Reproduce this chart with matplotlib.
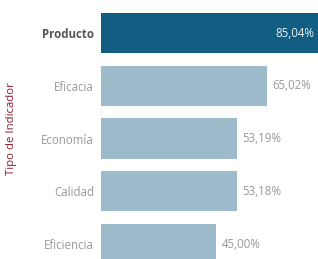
import matplotlib.pyplot as plt

# Datos del grafico
categorias = ["Producto", "Eficacia", "Economía", "Calidad", "Eficiencia"]
valores = [85.04, 65.02, 53.19, 53.18, 45.00]
etiquetas = ["85,04%", "65,02%", "53,19%", "53,18%", "45,00%"]

plt.rcParams['font.family'] = ['Open Sans', 'DejaVu Sans']

fig = plt.figure(figsize=(3.18, 2.59), dpi=100)
ax = fig.add_axes([101 / 318, 0, 217 / 318, 1])

colores = ["#125d82" if i == 0 else "#9dbbca" for i in range(len(valores))]
pos = list(range(len(categorias)))
ax.barh(pos, valores, height=0.76, color=colores)

ax.set_xlim(0, 85.04)
ax.set_ylim(4.284, -0.626)

# Etiquetas de valor
for i, (v, t) in enumerate(zip(valores, etiquetas)):
    if i == 0:
        ax.text(v - 1.6, i, t, ha="right", va="center", fontsize=8.3, color="#e8f0f5")
    else:
        ax.text(v + 2.3, i, t, ha="left", va="center", fontsize=8.3, color="#999999")

ax.set_yticks(pos)
ax.set_yticklabels(categorias)
for i, lbl in enumerate(ax.get_yticklabels()):
    lbl.set_fontsize(8.3)
    if i == 0:
        lbl.set_fontweight("bold")
        lbl.set_color("#555555")
    else:
        lbl.set_color("#999999")
ax.tick_params(axis="y", length=0, pad=5)
ax.set_xticks([])
for s in ax.spines.values():
    s.set_visible(False)

fig.text(12 / 318, 1 - 129 / 259, "Tipo de Indicador", rotation=90, ha="center",
         va="center", fontsize=8.2, color="#8b1c2c")

fig.savefig("out.png", dpi=100)
